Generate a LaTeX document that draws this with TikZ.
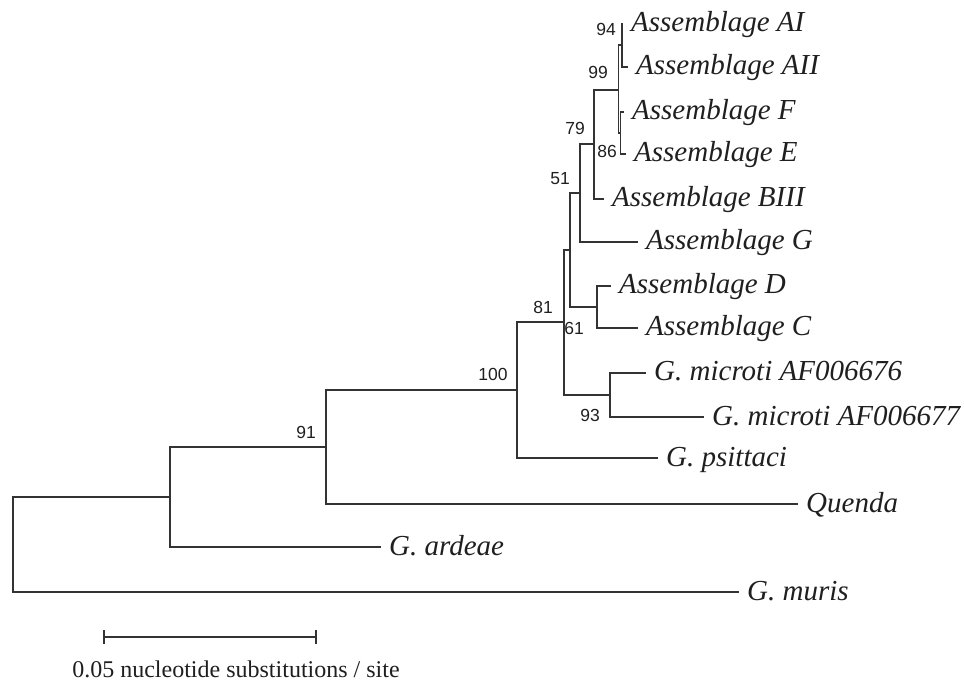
\documentclass[tikz,border=0pt]{standalone}
\usepackage{fontspec}
\setmainfont{Liberation Serif}
\newfontfamily\supfont{Liberation Sans}
\definecolor{branchcol}{gray}{0.2}
\definecolor{textcol}{gray}{0.12}
\begin{document}
\begin{tikzpicture}[x=1pt,y=-1pt,
  branch/.style={draw=branchcol,line width=1.6pt,line cap=rect},
  leaf/.style={anchor=west,inner xsep=9pt,inner ysep=0pt,text=textcol,
    font=\fontsize{29}{34}\selectfont\itshape,text height=20pt,text depth=4pt},
  support/.style={inner sep=0pt,text=textcol,font=\supfont\fontsize{17.5}{20}\selectfont},
  scalelabel/.style={anchor=base,inner sep=0pt,text=textcol,font=\fontsize{24}{28}\selectfont}]
\useasboundingbox (0,0) rectangle (964,684);
% leaves
\node[leaf] (AI)   at (622,24)  {Assemblage AI};
\node[leaf] (AII)  at (627,67)  {Assemblage AII};
\node[leaf] (F)    at (623,112) {Assemblage F};
\node[leaf] (E)    at (625,154) {Assemblage E};
\node[leaf] (BIII) at (603,199) {Assemblage BIII};
\node[leaf] (G)    at (637,242) {Assemblage G};
\node[leaf] (D)    at (610,286) {Assemblage D};
\node[leaf] (C)    at (637,328) {Assemblage C};
\node[leaf] (M1)   at (645,373) {G. microti AF006676};
\node[leaf] (M2)   at (703,417) {G. microti AF006677};
\node[leaf] (Ps)   at (657,458) {G. psittaci};
\node[leaf] (Q)    at (797,504) {Quenda};
\node[leaf] (Ar)   at (380,547) {G. ardeae};
\node[leaf] (Mu)   at (738,592) {G. muris};
% internal nodes
\coordinate (nA)   at (622,45);
\coordinate (nFE)  at (620.5,133);
\coordinate (n99)  at (618.5,90);
\coordinate (n79)  at (594,144);
\coordinate (n51)  at (580,193);
\coordinate (nDC)  at (597,307);
\coordinate (n61)  at (570,250);
\coordinate (nMic) at (610,395);
\coordinate (n81)  at (564,322);
\coordinate (n100) at (517,390);
\coordinate (n91)  at (326,447);
\coordinate (nArd) at (170,497);
\coordinate (root) at (13,544.5);
% branches
\draw[branch] (nA) |- (AI.west);
\draw[branch] (nA) |- (AII.west);
\draw[branch] (nFE) |- (F.west);
\draw[branch] (nFE) |- (E.west);
\draw[branch] (n99) |- (nA);
\draw[branch] (n99) |- (nFE);
\draw[branch] (n79) |- (n99);
\draw[branch] (n79) |- (BIII.west);
\draw[branch] (n51) |- (n79);
\draw[branch] (n51) |- (G.west);
\draw[branch] (nDC) |- (D.west);
\draw[branch] (nDC) |- (C.west);
\draw[branch] (n61) |- (n51);
\draw[branch] (n61) |- (nDC);
\draw[branch] (nMic) |- (M1.west);
\draw[branch] (nMic) |- (M2.west);
\draw[branch] (n81) |- (n61);
\draw[branch] (n81) |- (nMic);
\draw[branch] (n100) |- (n81);
\draw[branch] (n100) |- (Ps.west);
\draw[branch] (n91) |- (n100);
\draw[branch] (n91) |- (Q.west);
\draw[branch] (nArd) |- (n91);
\draw[branch] (nArd) |- (Ar.west);
\draw[branch] (root) |- (nArd);
\draw[branch] (root) |- (Mu.west);
% support values
\node[support] (s94)  at (606,29)  {94};
\node[support] (s99)  at (598,72)  {99};
\node[support] (s79)  at (575,128) {79};
\node[support] (s86)  at (607,151) {86};
\node[support] (s51)  at (560,179) {51};
\node[support] (s81)  at (543,307) {81};
\node[support] (s61)  at (574,328) {61};
\node[support] (s93)  at (590,415) {93};
\node[support] (s100) at (493,374) {100};
\node[support] (s91)  at (306,432) {91};
% scale bar
\coordinate (sbL) at (104,637);
\coordinate (sbR) at (316,637);
\draw[branch,line cap=butt] (sbL) -- (sbR);
\draw[branch,line cap=butt] ([yshift=-7pt]sbL) -- ([yshift=7pt]sbL);
\draw[branch,line cap=butt] ([yshift=-7pt]sbR) -- ([yshift=7pt]sbR);
\node[scalelabel] (sbt) at (236,677) {0.05 nucleotide substitutions / site};
\end{tikzpicture}
\end{document}
